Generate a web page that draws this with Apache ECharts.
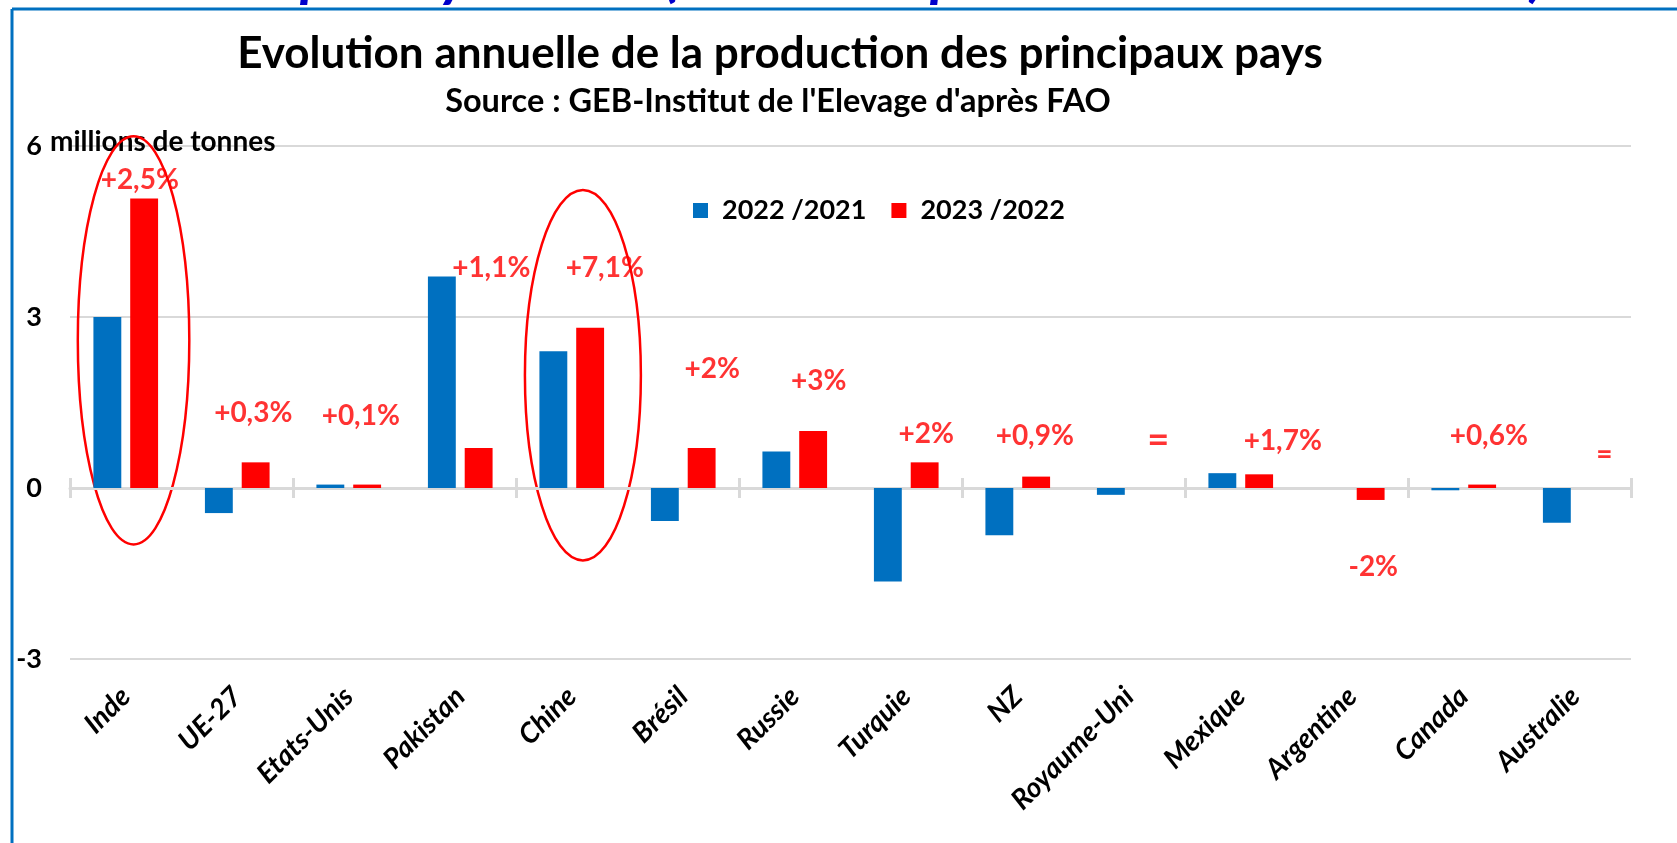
<!DOCTYPE html>
<html lang="fr">
<head>
<meta charset="UTF-8">
<title>Evolution annuelle de la production</title>
<script src="https://cdn.jsdelivr.net/npm/echarts@6/dist/echarts.min.js"></script>
<style>
    html, body {margin: 0; padding: 0; background: #fff;}
    #chart {width: 1677px; height: 843px;}
</style>
</head>
<body>
<div id="chart"></div>
<script>
    // donnees (millions de tonnes)
    var pays = ['Inde', 'UE-27', 'Etats-Unis', 'Pakistan', 'Chine', 'Brésil', 'Russie', 'Turquie', 'NZ', 'Royaume-Uni', 'Mexique', 'Argentine', 'Canada', 'Australie'];
    var evol2022 = [3.0, -0.44, 0.06, 3.71, 2.40, -0.58, 0.64, -1.64, -0.83, -0.12, 0.26, 0, -0.04, -0.61];
    var evol2023 = [5.08, 0.45, 0.06, 0.70, 2.81, 0.70, 1.00, 0.45, 0.20, 0, 0.24, -0.21, 0.06, 0];
    var pctTexte = ['+2,5%', '+0,3%', '+0,1%', '+1,1%', '+7,1%', '+2%', '+3%', '+2%', '+0,9%', '=', '+1,7%', '-2%', '+0,6%', '='];
    var pctNiveau = [5.41, 1.32, 1.26, 3.86, 3.86, 2.09, 1.88, 0.95, 0.92, 0.83, 0.83, -1.39, 0.91, 0.58];
    var yMin = -3, yMax = 6, yPas = 3;

    // decalage horizontal des etiquettes (px) et cercles
    var pctDecalage = [14, 16, 12, 31, 33, 29, 24, 20, 17, 29, 42, 21, 25, 29];
    var cercles = [
        {cat: 0, dx: 0.07, y: 2.59, rx: 0.5, ry: 3.58},
        {cat: 4, dx: 0.10, y: 1.98, rx: 0.52, ry: 3.25}
    ];

    var police = 'Lato, "Open Sans", sans-serif';
    var bleu = '#0070C0', rouge = '#FF0000', gris = '#D9D9D9';

    var annot = pctTexte.map(function (t, i) {
        var taille = 28;
        if (t === '=') taille = i === 13 ? 28 : 38;
        return {
            name: t,
            value: [i, pctNiveau[i]],
            label: {offset: [pctDecalage[i], 0], fontSize: taille}
        };
    });

    var myChart = echarts.init(document.getElementById('chart'));
    var option = {
        animation: false,
        title: [{
            text: 'Evolution annuelle de la production des principaux pays',
            left: 780, top: 32, textAlign: 'center', padding: 0,
            textStyle: {fontFamily: police, fontWeight: 'bold', fontSize: 44, color: '#000'}
        }, {
            text: "Source : GEB-Institut de l'Elevage d'après FAO",
            left: 778, top: 85, textAlign: 'center', padding: 0,
            textStyle: {fontFamily: police, fontWeight: 'bold', fontSize: 32.5, color: '#000'}
        }],
        legend: {
            data: ['2022 /2021', '2023 /2022'],
            left: 688, top: 192,
            icon: 'rect', itemWidth: 15, itemHeight: 15, itemGap: 25,
            textStyle: {fontFamily: police, fontWeight: 'bold', fontSize: 27, color: '#000', padding: [0, 0, 0, 9]}
        },
        grid: {left: 70, right: 46, top: 146, bottom: 184},
        xAxis: [{
            type: 'category', data: pays, position: 'bottom',
            axisLine: {show: false, onZero: false}, axisTick: {show: false},
            axisLabel: {
                interval: 0, rotate: 45, margin: 33, color: '#000',
                fontFamily: police, fontStyle: 'italic', fontWeight: 'bold', fontSize: 28
            }
        }, {
            type: 'category', data: pays, position: 'bottom',
            axisLine: {show: true, onZero: true, onZeroAxisIndex: 0, lineStyle: {color: gris, width: 3}},
            axisTick: {show: true, inside: true, interval: 1, length: 10, lineStyle: {color: gris, width: 3}},
            axisLabel: {show: false}
        }, {
            type: 'category', data: pays, position: 'bottom',
            axisLine: {show: false, onZero: true, onZeroAxisIndex: 0},
            axisTick: {show: true, inside: false, interval: 1, length: 10, lineStyle: {color: gris, width: 3}},
            axisLabel: {show: false}
        }],
        yAxis: {
            type: 'value', min: yMin, max: yMax, interval: yPas,
            axisLine: {show: false}, axisTick: {show: false},
            splitLine: {lineStyle: {color: gris, width: 2}},
            axisLabel: {margin: 28, color: '#000', fontFamily: police, fontWeight: 'bold', fontSize: 27}
        },
        series: [{
            name: '2022 /2021', type: 'bar', data: evol2022,
            barWidth: '25%', barGap: '32%',
            itemStyle: {color: bleu}
        }, {
            name: '2023 /2022', type: 'bar', data: evol2023,
            barWidth: '25%', barGap: '32%',
            itemStyle: {color: rouge}
        }, {
            name: 'pct', type: 'scatter', data: annot, symbolSize: 0, silent: true,
            label: {
                show: true, position: 'inside', formatter: '{b}', color: rouge,
                fontFamily: police, fontWeight: 'bold'
            }
        }]
    };
    myChart.setOption(option);

    // cadre, fragments de titre, unite, ellipses
    var graphics = [
        {type: 'line', shape: {x1: 12, y1: 9, x2: 1677, y2: 9}, style: {stroke: bleu, lineWidth: 3}},
        {type: 'line', shape: {x1: 12, y1: 9, x2: 12, y2: 843}, style: {stroke: bleu, lineWidth: 3}},
        {type: 'text', x: 50, y: 142, style: {text: 'millions de tonnes', font: 'bold 28px ' + police, fill: '#000', verticalAlign: 'middle'}}
    ];
    [['p', 300], ['y', 440], ['(', 664], ['p', 930], [')', 1530]].forEach(function (f) {
        graphics.push({type: 'text', x: f[1], y: 6, style: {text: f[0], font: 'italic bold 60px ' + police, fill: '#0000CC', verticalAlign: 'bottom'}});
    });
    var p0 = myChart.convertToPixel({xAxisIndex: 0, yAxisIndex: 0}, [0, 0]);
    var p1 = myChart.convertToPixel({xAxisIndex: 0, yAxisIndex: 0}, [1, 1]);
    var bande = p1[0] - p0[0], unite = p0[1] - p1[1];
    cercles.forEach(function (c) {
        var p = myChart.convertToPixel({xAxisIndex: 0, yAxisIndex: 0}, [c.cat, c.y]);
        graphics.push({
            type: 'ellipse',
            shape: {cx: p[0] + c.dx * bande, cy: p[1], rx: c.rx * bande, ry: c.ry * unite},
            style: {fill: 'none', stroke: rouge, lineWidth: 2.5}
        });
    });
    myChart.setOption({graphic: graphics});
</script>
</body>
</html>
